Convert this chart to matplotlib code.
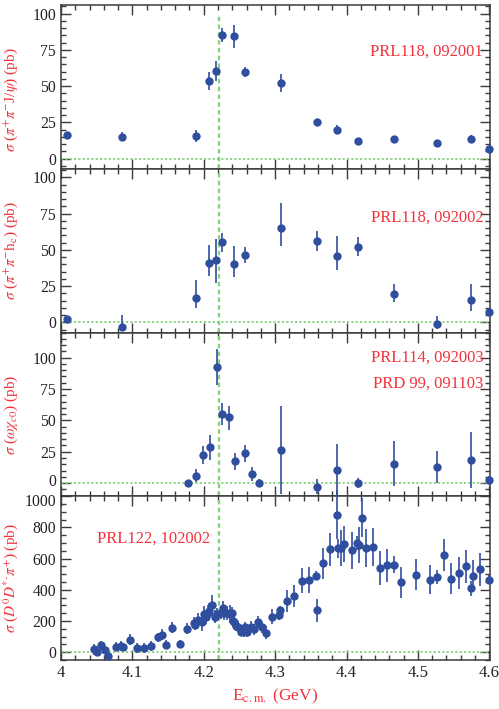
import numpy as np
import matplotlib
matplotlib.use("Agg")
import matplotlib.pyplot as plt
from matplotlib.ticker import MultipleLocator, FormatStrFormatter
from matplotlib.transforms import ScaledTranslation

plt.rcParams['font.family'] = ['Liberation Serif', 'DejaVu Serif']
plt.rcParams['mathtext.fontset'] = 'stix'

#data
# pi+ pi- J/psi  (PRL118, 092001)
e_jpsi = [4.008, 4.085, 4.189, 4.208, 4.217, 4.226, 4.242, 4.258, 4.308,
          4.358, 4.387, 4.416, 4.467, 4.527, 4.575, 4.600]
s_jpsi = [16.0, 15.1, 15.6, 53.5, 60.4, 85.4, 84.4, 59.7, 52.2,
          25.4, 19.9, 11.9, 13.5, 10.5, 13.5, 6.4]
err_jpsi = [1.5, 3.0, 4.0, 6.0, 7.0, 5.0, 8.0, 3.5, 6.5,
            1.5, 3.0, 1.5, 1.5, 1.5, 3.0, 1.5]

# pi+ pi- hc  (PRL118, 092002)
e_hc = e_jpsi
s_hc = [2.1, -3.0, 16.7, 40.8, 43.3, 55.5, 40.1, 46.6, 65.4,
        56.2, 45.9, 52.3, 19.5, -0.9, 15.4, 7.3]
err_hc_lo = [1.5, 3.0, 6.8, 8.7, 15.8, 6.6, 9.1, 5.8, 12.4,
             7.2, 10.1, 6.4, 5.7, 3.5, 7.4, 1.5]
err_hc_hi = [1.5, 8.0, 12.7, 12.9, 14.0, 6.4, 12.9, 5.7, 16.7,
             6.8, 13.7, 6.6, 7.1, 5.5, 11.2, 1.5]

# omega chi_c0  (PRL114, 092003 / PRD 99, 091103)
e_chi = [4.178, 4.189, 4.199, 4.209, 4.219, 4.226, 4.236, 4.244, 4.258,
         4.267, 4.278, 4.308, 4.358, 4.387, 4.416, 4.467, 4.527, 4.575, 4.600]
s_chi = [0.0, 5.8, 22.8, 28.6, 92.8, 55.4, 52.3, 17.5, 23.9,
         7.2, 0.0, 26.3, -2.7, 10.3, 0.0, 15.6, 12.5, 18.4, 2.8]
err_chi_lo = [1.0, 5.0, 7.4, 9.8, 14.3, 8.7, 10.1, 7.2, 6.7,
              5.6, 2.4, 35.3, 6.1, 21.0, 4.0, 18.0, 12.5, 22.0, 2.5]
err_chi_hi = [1.0, 5.6, 6.6, 9.9, 14.1, 8.3, 9.5, 6.6, 6.1,
              5.3, 3.4, 35.0, 6.1, 20.7, 4.0, 18.0, 13.0, 22.5, 2.5]

# D0 D*- pi+  (PRL122, 102002)
e_dds = [4.046, 4.051, 4.056, 4.061, 4.066, 4.077, 4.084, 4.087, 4.096,
         4.106, 4.116, 4.126, 4.136, 4.142, 4.147, 4.156, 4.167, 4.177,
         4.186, 4.188, 4.192, 4.197, 4.200, 4.203, 4.206, 4.208, 4.211,
         4.216, 4.218, 4.224, 4.227, 4.228, 4.233, 4.237, 4.240, 4.241,
         4.243, 4.245, 4.248, 4.252, 4.256, 4.258, 4.261, 4.266, 4.271,
         4.276, 4.281, 4.287, 4.296, 4.306, 4.307, 4.316, 4.327, 4.337,
         4.347, 4.357, 4.358, 4.367, 4.377, 4.387, 4.388, 4.392, 4.397,
         4.407, 4.415, 4.417, 4.422, 4.427, 4.437, 4.447, 4.457, 4.466,
         4.477, 4.497, 4.517, 4.527, 4.537, 4.547, 4.557, 4.567, 4.574,
         4.577, 4.587, 4.599]
s_dds = [19, 2, 45, 13, -24, 36, 40, 34, 79,
         28, 28, 40, 96, 113, 49, 158, 53, 150,
         190, 175, 208, 193, 244, 229, 250, 265, 304,
         229, 244, 255, 287, 250, 250, 246, 250, 201,
         193, 169, 165, 133, 139, 160, 133, 165, 148,
         193, 161, 126, 229, 240, 268, 330, 362, 458,
         463, 492, 268, 570, 660, 878, 668, 668, 694,
         653, 700, 688, 863, 668, 675, 540, 557, 561,
         450, 497, 465, 482, 623, 473, 508, 550, 409,
         488, 531, 465]
err_dds = [35, 25, 30, 25, 20, 30, 30, 25, 35,
           30, 30, 30, 30, 35, 30, 35, 25, 35,
           35, 35, 45, 55, 50, 45, 50, 50, 64,
           43, 40, 40, 43, 40, 45, 60, 40, 40,
           35, 35, 35, 30, 40, 35, 35, 35, 35,
           40, 35, 40, 48, 30, 30, 70, 72, 80,
           83, 31, 72, 100, 107, 150, 61, 118, 116,
           119, 43, 118, 126, 120, 121, 110, 104, 54,
           99, 100, 93, 45, 104, 98, 103, 105, 51,
           102, 104, 28]

e_res = 4.222

red = '#f2333d'
blue = '#2f4e9e'
green = '#86d27c'
axcol = '#3a3a3a'

fig, axes = plt.subplots(4, 1, figsize=(4.99, 7.09), dpi=100, sharex=True)
fig.subplots_adjust(left=0.1222, right=0.982, top=0.993, bottom=0.069, hspace=0)


def draw(ax, x, y, yerr):
    c = ax.errorbar(x, y, yerr=yerr, fmt='o', ms=5, color=blue, ecolor=blue,
                    elinewidth=1.2, capsize=0, zorder=4)
    for art in c.lines[0:1] + tuple(c.lines[2]):
        art.set_clip_on(False)


draw(axes[0], e_jpsi, s_jpsi, err_jpsi)
draw(axes[1], e_hc, s_hc, [err_hc_lo, err_hc_hi])
draw(axes[2], e_chi, s_chi, [err_chi_lo, err_chi_hi])
err_dds_lo = list(err_dds)
err_dds_hi = list(err_dds)
err_dds_hi[e_dds.index(4.387)] = 165
draw(axes[3], e_dds, s_dds, [err_dds_lo, err_dds_hi])

ylims = [(-7, 106), (-7, 106), (-10.5, 120), (-50, 1000)]
majors = [25, 25, 25, 200]
minors = [5, 5, 5, 50]
ylabels = [r'$\sigma$ ($\pi^{+}\pi^{-}$J/$\psi$) (pb)',
           r'$\sigma$ ($\pi^{+}\pi^{-}$h$_{\rm c}$) (pb)',
           r'$\sigma$ ($\omega\chi_{c0}$) (pb)',
           r'$\sigma$ ($D^{0}D^{*\text{-}}\pi^{+}$) (pb)']
label_y = [0.42, 0.5, 0.5, 0.5]

for i, ax in enumerate(axes):
    ax.set_xlim(4.0, 4.601)
    ax.set_ylim(*ylims[i])
    ax.yaxis.set_major_locator(MultipleLocator(majors[i]))
    ax.yaxis.set_minor_locator(MultipleLocator(minors[i]))
    if i == 2:
        ax.set_yticks([0, 25, 50, 75, 100])
    ax.xaxis.set_major_locator(MultipleLocator(0.1))
    ax.xaxis.set_minor_locator(MultipleLocator(0.02))
    ax.xaxis.set_major_formatter(FormatStrFormatter('%g'))
    ax.tick_params(which='both', direction='in', top=True, right=True,
                   color=axcol, width=1.0, labelsize=12, labelcolor='#222222')
    ax.tick_params(axis='y', labelsize=11.3)
    ax.tick_params(which='major', length=7)
    ax.tick_params(which='minor', length=3.5)
    for sp in ax.spines.values():
        sp.set_color(axcol)
        sp.set_linewidth(1.1)
    ax.axhline(0, color=green, ls=(0, (1.2, 1.2)), lw=1.3, zorder=2)
    ax.axvline(e_res, ymax=0.94 if i == 0 else 1, color=green,
               ls=(0, (2, 1.5)), lw=1.6, zorder=2)
    ax.set_ylabel(ylabels[i], color=red, fontsize=11)
    ax.yaxis.set_label_coords(-0.095, label_y[i])

axes[0].text(0.984, 0.715, 'PRL118, 092001', color=red, fontsize=12,
             ha='right', va='center', transform=axes[0].transAxes)
axes[1].text(0.984, 0.703, 'PRL118, 092002', color=red, fontsize=12,
             ha='right', va='center', transform=axes[1].transAxes)
axes[2].text(0.984, 0.846, 'PRL114, 092003', color=red, fontsize=12,
             ha='right', va='center', transform=axes[2].transAxes)
axes[2].text(0.984, 0.687, 'PRD 99, 091103', color=red, fontsize=12,
             ha='right', va='center', transform=axes[2].transAxes)
axes[3].text(0.083, 0.742, 'PRL122, 102002', color=red, fontsize=12,
             ha='left', va='center', transform=axes[3].transAxes)

axes[3].set_xlabel(r'E$_{\rm c.m.}$ (GeV)', color=red, fontsize=12.5)

# "0" of panel 3 and "1000" of panel 4 sit on the same border: nudge them apart
fig.canvas.draw()
for ax, txt, dy in [(axes[2], '0', 2), (axes[3], '1000', -3)]:
    for tick in ax.yaxis.get_major_ticks():
        if tick.label1.get_text() == txt:
            tick.label1.set_transform(tick.label1.get_transform() +
                                      ScaledTranslation(0, dy / 72, fig.dpi_scale_trans))

plt.savefig("out.png", dpi=100)
plt.close()
